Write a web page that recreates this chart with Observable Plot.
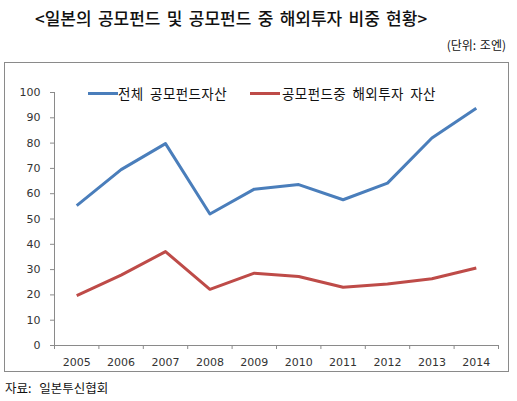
<!DOCTYPE html>
<html>
<head>
<meta charset="utf-8">
<script src="https://cdn.jsdelivr.net/npm/d3@7"></script>
<script src="https://cdn.jsdelivr.net/npm/@observablehq/plot@0.6"></script>
<style>
  html, body { margin: 0; padding: 0; background: #fff; }
  #wrap { position: relative; width: 517px; height: 401px; overflow: hidden; font-family: "Noto Sans CJK KR", "Noto Sans", sans-serif; color: #111; }
  .abs { position: absolute; white-space: nowrap; }
  #title { left: 35px; top: 7px; font-size: 17px; line-height: 22px; font-weight: 500; word-spacing: 2.5px; }
  #unit { right: 11px; top: 36px; font-size: 12px; line-height: 18px; word-spacing: 1px; }
  #box { left: 4px; top: 62px; width: 505px; height: 310px; border: 1px solid #8a8a8a; box-sizing: border-box; }
  #chart { left: 0; top: 62px; }
  .leg { font-size: 13.5px; line-height: 18px; top: 84px; word-spacing: 3px; letter-spacing: 0.4px; }
  .sw { position: absolute; height: 3px; top: 92px; }
  #source { left: 5px; top: 379px; font-size: 12.5px; line-height: 18px; word-spacing: 5px; }
</style>
</head>
<body>
<div id="wrap">
  <div id="title" class="abs"></div>
  <div id="unit" class="abs"></div>
  <div id="box" class="abs"></div>
  <div id="chart" class="abs"></div>
  <div id="sw0" class="sw"></div>
  <div id="leg0" class="abs leg"></div>
  <div id="sw1" class="sw"></div>
  <div id="leg1" class="abs leg"></div>
  <div id="source" class="abs"></div>
</div>
<script>
const titleText = "<일본의 공모펀드 및 공모펀드 중 해외투자 비중 현황>";
const unitText = "(단위: 조엔)";
const sourceText = "자료: 일본투신협회";
const years = [2005, 2006, 2007, 2008, 2009, 2010, 2011, 2012, 2013, 2014];
const seriesNames = ["전체 공모펀드자산", "공모펀드중 해외투자 자산"];
const totalAssets = [55.3, 69.5, 79.8, 52.0, 61.8, 63.6, 57.6, 64.2, 82.0, 93.8];
const overseasAssets = [19.7, 27.8, 37.1, 22.2, 28.6, 27.3, 23.0, 24.3, 26.4, 30.6];
const yTicks = [0, 10, 20, 30, 40, 50, 60, 70, 80, 90, 100];
const colors = ["#4A7EBB", "#BE4B48"];

document.getElementById("title").textContent = titleText;
document.getElementById("unit").textContent = unitText;
document.getElementById("source").textContent = sourceText;

const data = [];
years.forEach((y, i) => {
  data.push({year: y, value: totalAssets[i], series: seriesNames[0]});
  data.push({year: y, value: overseasAssets[i], series: seriesNames[1]});
});

const xDomain = [years[0] - 0.5, years[years.length - 1] + 0.5];
const boundaries = years.map(y => y - 0.5).concat([years[years.length - 1] + 0.5]);

const chart = Plot.plot({
  width: 517,
  height: 310,
  marginTop: 30,
  marginBottom: 27,
  marginLeft: 54,
  marginRight: 19,
  style: { fontFamily: "DejaVu Sans", fontSize: "11px", color: "#333", background: "transparent", overflow: "visible" },
  x: { type: "linear", domain: xDomain },
  y: { domain: [0, 100] },
  color: { domain: seriesNames, range: colors },
  marks: [
    Plot.axisY({ ticks: yTicks, tickSize: 4, tickPadding: 10, stroke: "#8a8a8a", fill: "#333", label: null, tickFormat: d => String(d) }),
    Plot.axisX({ ticks: boundaries, tickSize: 4, stroke: "#8a8a8a", tickFormat: () => "", label: null }),
    Plot.axisX({ ticks: years, tickSize: 0, tickPadding: 13, fill: "#333", tickFormat: d => String(d), label: null }),
    Plot.ruleY([0], { stroke: "#8a8a8a" }),
    Plot.ruleX([xDomain[0]], { stroke: "#8a8a8a" }),
    Plot.line(data, { x: "year", y: "value", z: "series", stroke: "series", strokeWidth: 3, strokeLinejoin: "round", strokeLinecap: "butt" })
  ]
});
document.getElementById("chart").appendChild(chart);

// legend
const legPos = [{sw: 88, tx: 118}, {sw: 250, tx: 282}];
seriesNames.forEach((name, i) => {
  const sw = document.getElementById("sw" + i);
  sw.style.left = legPos[i].sw + "px";
  sw.style.width = "30px";
  sw.style.background = colors[i];
  const lg = document.getElementById("leg" + i);
  lg.style.left = legPos[i].tx + "px";
  lg.textContent = name;
});
</script>
</body>
</html>
